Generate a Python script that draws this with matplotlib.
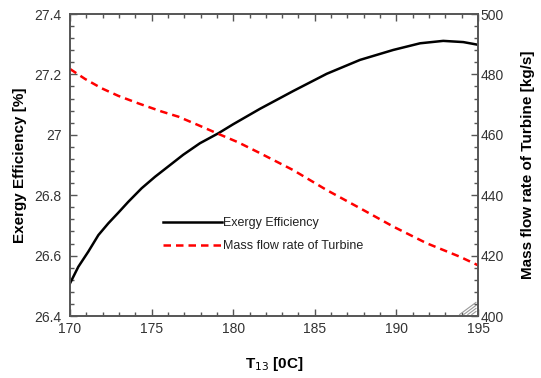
import matplotlib
matplotlib.use("Agg")
import matplotlib.pyplot as plt
from matplotlib.ticker import MultipleLocator
from matplotlib.lines import Line2D

plt.rcParams['font.family'] = ['Liberation Sans', 'DejaVu Sans']

# values
t13 = [170.0, 170.51, 171.12, 171.74, 172.35, 172.96, 173.57, 174.39, 175.21,
       176.23, 176.94, 177.96, 179.09, 180.0, 181.64, 183.68, 185.73,
       187.77, 189.81, 191.45, 192.87, 194.1, 194.71, 195.0]
exergy = [26.508, 26.563, 26.613, 26.668, 26.707, 26.742, 26.778, 26.823, 26.861,
          26.904, 26.934, 26.972, 27.005, 27.035, 27.086, 27.145, 27.202,
          27.248, 27.281, 27.303, 27.311, 27.307, 27.301, 27.298]

t13_m = [170.0, 170.92, 171.94, 172.96, 174.19, 175.62, 176.64, 177.86, 179.09,
         180.31, 181.54, 183.68, 185.73, 187.77, 189.81, 191.85, 193.9, 195.0]
mass_flow = [481.8, 478.5, 475.4, 472.9, 470.4, 467.7, 466.0, 463.2, 460.3,
             457.5, 454.2, 448.3, 441.7, 435.7, 429.6, 424.1, 419.6, 416.8]

tick_col = "#333333"

fig = plt.figure(figsize=(5.41, 3.78), dpi=100)
ax = fig.add_axes([70/541, 1-316/378, 408/541, 302/378])
ax2 = ax.twinx()

l1, = ax.plot(t13, exergy, color="black", lw=1.8)
l2, = ax2.plot(t13_m, mass_flow, color="red", lw=1.8, ls=(0, (3, 2)))

ax.set_xlim(170, 195)
ax.set_ylim(26.4, 27.4)
ax2.set_ylim(400, 500)

ax.xaxis.set_major_locator(MultipleLocator(5))
ax.xaxis.set_minor_locator(MultipleLocator(1))
ax.yaxis.set_minor_locator(MultipleLocator(0.04))
ax.set_yticks([26.4, 26.6, 26.8, 27.0, 27.2, 27.4])
ax.set_yticklabels(["26.4", "26.6", "26.8", "27", "27.2", "27.4"])
ax2.yaxis.set_major_locator(MultipleLocator(20))
ax2.yaxis.set_minor_locator(MultipleLocator(4))

ax.tick_params(axis="x", which="both", direction="in", top=True, labelsize=10,
               labelcolor=tick_col, pad=4)
ax.tick_params(axis="y", which="both", direction="in", labelsize=10,
               labelcolor=tick_col, pad=6)
ax.tick_params(which="major", length=5, width=1, color="#555555")
ax.tick_params(which="minor", length=3, width=1, color="#555555")
ax2.tick_params(axis="y", which="both", direction="in", labelsize=10,
                labelcolor=tick_col, pad=2, color="#555555", width=1)
ax2.tick_params(which="major", length=5)
ax2.tick_params(which="minor", length=3)

for a in (ax, ax2):
    for s in a.spines.values():
        s.set_color("#555555")
        s.set_linewidth(1.2)

ax.set_xlabel("T$_{13}$ [0C]", fontsize=11, fontweight="bold", labelpad=14)
ax.set_ylabel("Exergy Efficiency [%]", fontsize=11, fontweight="bold", labelpad=5)
ax2.set_ylabel("Mass flow rate of Turbine [kg/s]", fontsize=11, fontweight="bold",
               labelpad=12)

ax.legend([l1, l2], ["Exergy Efficiency", "Mass flow rate of Turbine"],
          loc="upper left", bbox_to_anchor=(0.2, 0.365), frameon=False,
          fontsize=9, handlelength=4.7, handletextpad=0.1, labelspacing=0.9,
          labelcolor="#222222")

# small resize-grip hatch in the corner
for k in range(4):
    ax.add_line(Line2D([0.955 + k*0.01, 0.995], [0.005, 0.045 - k*0.01],
                       transform=ax.transAxes, color="#999999", lw=0.8))

fig.savefig("out.png", dpi=100)
